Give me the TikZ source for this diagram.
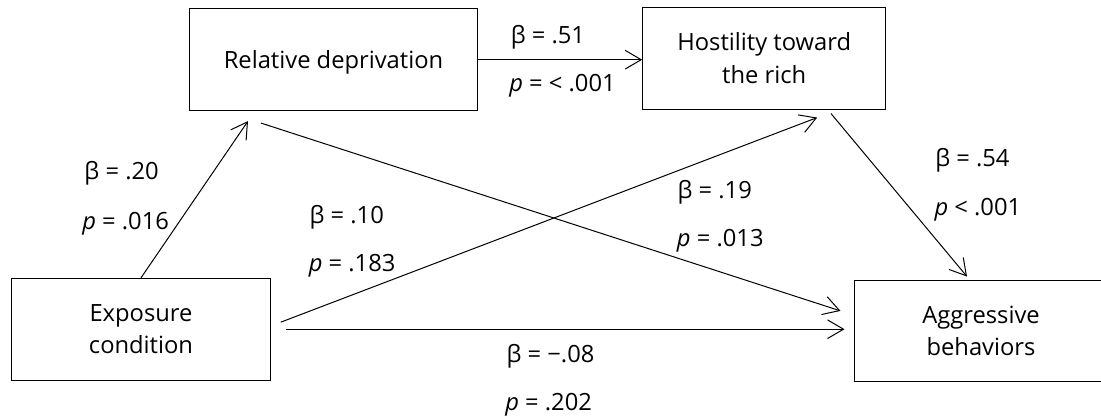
\documentclass[tikz,border=0pt]{standalone}
\usepackage{fontspec}
\setmainfont{Open Sans}
\usetikzlibrary{arrows.meta,calc}

\begin{document}
\begin{tikzpicture}[
  x=0.75pt, y=-0.75pt,
  font=\fontsize{17.8}{24.4}\selectfont,
  path/.style={-{Straight Barb[length=12pt,width=14pt]},draw=black,line width=.75pt},
  var/.style={draw=black,line width=.75pt,align=center,minimum height=76.3pt,inner sep=0pt},
  coef/.style={anchor=base west,inner sep=0pt}
]
\clip (0,0) rectangle (1101,418);
% Variables of the serial mediation model.
\node[var,minimum width=216.2pt,text depth=0pt] (rd) at (333.5,59.7) {Relative deprivation};
\node[var,minimum width=182.3pt] (host) at (764.2,58.2) {Hostility toward\\the rich};
\node[var,minimum width=193.8pt] (expo) at (141,329.2) {Exposure\\condition};
\node[var,minimum width=190.5pt] (aggr) at (981,330.9) {Aggressive\\behaviors};
% Paths, each stopping a little short of its box.
\draw[path] (expo.north) -- ($(rd.south)+(-85.5,10)$);
\draw[path] (rd.east) -- (host.west |- rd.east);
\draw[path] ($(rd.south)+(-72.5,12)$) -- ($(aggr.west)+(-13,-20)$);
\draw[path] ($(expo.east)+(10,-7)$) -- ($(host.south)+(53,8)$);
\draw[path] ($(host.south)+(66.8,4)$) -- ($(aggr.north)+(-14,-3)$);
\coordinate (expoOut) at ($(expo.east)+(15,0)$);
\coordinate (aggrIn) at ($(aggr.west)+(-9,0)$);
\draw[path] (expoOut) -- (aggrIn |- expoOut);
% Coefficients.
\node[coef] (b1) at (510.5,43.3) {β = .51};
\node[coef] (p1) at (509,91.7) {\textit{p} = < .001};
\node[coef] (b2) at (84.2,179.3) {β = .20};
\node[coef] (p2) at (82,229.3) {\textit{p} = .016};
\node[coef] (b3) at (309.3,223.3) {β = .10};
\node[coef] (p3) at (308.5,271.7) {\textit{p} = .183};
\node[coef] (b4) at (677.3,198.3) {β = .19};
\node[coef] (p4) at (676.7,246.7) {\textit{p} = .013};
\node[coef] (b5) at (935,166.7) {β = .54};
\node[coef] (p5) at (934.3,215) {\textit{p} < .001};
\node[coef] (b6) at (506.3,362.7) {β = −.08};
\node[coef] (p6) at (505,410) {\textit{p} = .202};
\end{tikzpicture}
\end{document}
